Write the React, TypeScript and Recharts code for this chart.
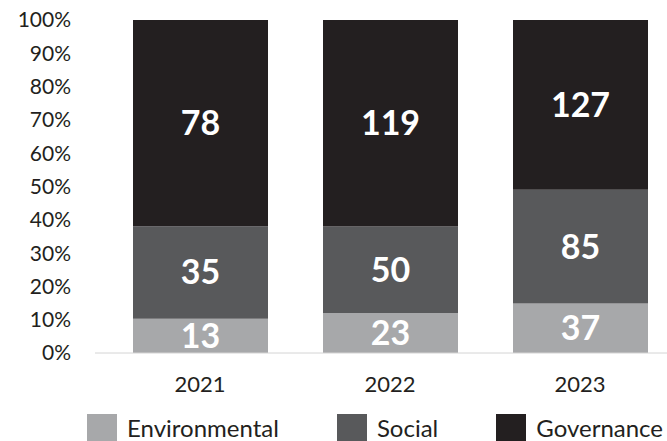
import React from 'react';
import { BarChart, Bar, XAxis, YAxis, Legend, LabelList } from 'recharts';

// ESG counts per year
const years = ['2021', '2022', '2023'];
const environmental = [13, 23, 37];
const social = [35, 50, 85];
const governance = [78, 119, 127];
const percentTicks = [0, 10, 20, 30, 40, 50, 60, 70, 80, 90, 100];

const COLORS = {
  env: '#a7a8aa',
  soc: '#58595b',
  gov: '#231f20',
};

const FONT = 'Lato, "Open Sans", sans-serif';

// turn raw counts into shares of 100 so bars fill the full height
const chartData = years.map((year, i) => {
  const total = environmental[i] + social[i] + governance[i];
  return {
    year,
    envPct: (environmental[i] / total) * 100,
    socPct: (social[i] / total) * 100,
    govPct: (governance[i] / total) * 100,
    env: environmental[i],
    soc: social[i],
    gov: governance[i],
  };
});

const legendItems = [
  { name: 'Environmental', color: COLORS.env },
  { name: 'Social', color: COLORS.soc },
  { name: 'Governance', color: COLORS.gov },
];

const LegendContent = () => (
  <div style={{ display: 'flex', paddingLeft: 87, paddingTop: 11, gap: 58, fontFamily: FONT }}>
    {legendItems.map((item) => (
      <div key={item.name} style={{ display: 'flex', alignItems: 'center' }}>
        <span style={{ width: 30, height: 27, background: item.color, display: 'inline-block', marginRight: 10 }} />
        <span style={{ fontSize: 24, color: '#231f20', lineHeight: '27px', whiteSpace: 'nowrap' }}>{item.name}</span>
      </div>
    ))}
  </div>
);

const labelStyle = { fill: '#ffffff', fontSize: 34, fontWeight: 700, fontFamily: FONT };

export default function App() {
  return (
    <div style={{ position: 'absolute', left: 0, top: 0, width: 667, height: 441, background: '#fff', overflow: 'hidden' }}>
      <BarChart
        width={667}
        height={441}
        data={chartData}
        margin={{ top: 20, right: 0, left: 0, bottom: 0 }}
        barSize={135}
      >
        <XAxis
          dataKey="year"
          padding={{ left: 10, right: -8 }}
          tickLine={false}
          tickMargin={17}
          height={50}
          axisLine={{ stroke: '#d4d4d4' }}
          tick={{ fill: '#231f20', fontSize: 22, fontFamily: FONT }}
        />
        <YAxis
          width={95}
          domain={[0, 100]}
          ticks={percentTicks}
          interval={0}
          allowDataOverflow
          tickFormatter={(v) => `${v}%`}
          axisLine={false}
          tickLine={false}
          tickMargin={18}
          tick={{ fill: '#231f20', fontSize: 21, fontFamily: FONT }}
        />
        <Legend verticalAlign="bottom" height={38} content={<LegendContent />} />
        <Bar dataKey="envPct" name="Environmental" stackId="a" fill={COLORS.env} isAnimationActive={false}>
          <LabelList dataKey="env" position="center" style={labelStyle} />
        </Bar>
        <Bar dataKey="socPct" name="Social" stackId="a" fill={COLORS.soc} isAnimationActive={false}>
          <LabelList dataKey="soc" position="center" style={labelStyle} />
        </Bar>
        <Bar dataKey="govPct" name="Governance" stackId="a" fill={COLORS.gov} isAnimationActive={false}>
          <LabelList dataKey="gov" position="center" style={labelStyle} />
        </Bar>
      </BarChart>
    </div>
  );
}
